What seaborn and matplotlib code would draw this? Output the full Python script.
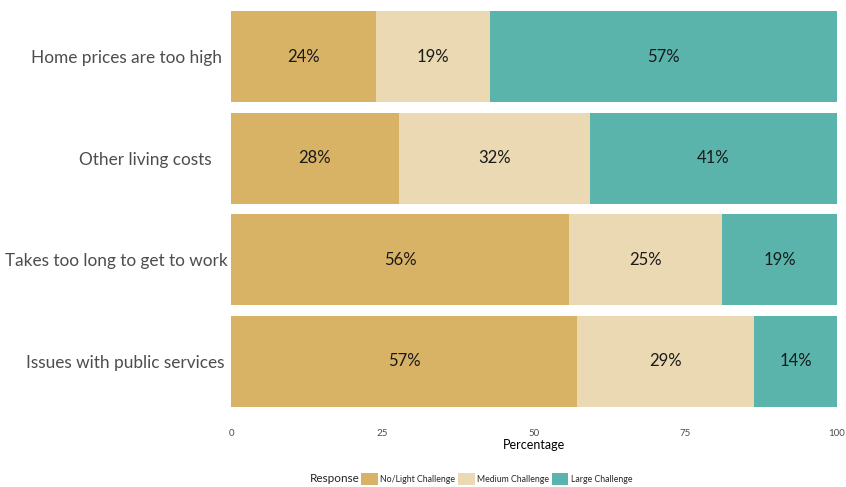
import pandas as pd
import matplotlib.pyplot as plt
import matplotlib.transforms as mtransforms
from matplotlib.patches import Patch
import seaborn as sns

# data (percent of respondents)
categories = ["Home prices are too high", "Other living costs",
              "Takes too long to get to work", "Issues with public services"]
responses = ["No/Light Challenge", "Medium Challenge", "Large Challenge"]
no_light = [23.9, 27.7, 55.8, 57.1]
medium = [18.8, 31.5, 25.2, 29.2]
large = [57.3, 40.8, 19.0, 13.7]
colors = ["#D8B365", "#EAD9B2", "#5AB4AC"]

df = pd.DataFrame({"category": categories, "No/Light Challenge": no_light,
                   "Medium Challenge": medium, "Large Challenge": large})
df["cum1"] = df["No/Light Challenge"]
df["cum2"] = df["cum1"] + df["Medium Challenge"]
df["cum3"] = df["cum2"] + df["Large Challenge"]

sns.set_style("white")
plt.rcParams["font.family"] = ["Lato", "DejaVu Sans"]

fig = plt.figure(figsize=(8.46, 4.87), dpi=100)
ax = fig.add_axes([231 / 846, 1 - 412 / 487, 606 / 846, 406 / 487])

# stacked bars: draw cumulative totals back to front
for col, c in zip(["cum3", "cum2", "cum1"], colors[::-1]):
    sns.barplot(data=df, x=col, y="category", order=categories, color=c,
                width=0.9, saturation=1, linewidth=0, ax=ax, orient="h")

# segment labels
for i, row in df.iterrows():
    starts = [0, row["cum1"], row["cum2"]]
    for s, r in zip(starts, responses):
        v = row[r]
        ax.text(s + v / 2, i, f"{round(v)}%", ha="center", va="center",
                fontsize=12, color="#1a1a1a")

ax.set_xlim(0, 100)
ax.set_ylim(3.5, -0.5)
ax.set_xticks([0, 25, 50, 75, 100])
ax.tick_params(axis="x", length=0, pad=12, labelsize=7, labelcolor="#4d4d4d")
ax.tick_params(axis="y", length=0, pad=0, labelsize=12.4, labelcolor="#4d4d4d")
ax.set_xlabel("Percentage", fontsize=9, labelpad=1, color="black")
ax.set_ylabel("")
sns.despine(ax=ax, left=True, bottom=True)

# right edges of the category labels differ in the reference
offsets = [-9, -19, -3, -7]
for lab, dx in zip(ax.get_yticklabels(), offsets):
    lab.set_transform(lab.get_transform() +
                      mtransforms.ScaledTranslation(dx / 100, 0, fig.dpi_scale_trans))

# legend along the bottom
fig.text(310 / 846, 1 - 479 / 487, "Response", fontsize=8.5, va="center", ha="left")
handles = [Patch(facecolor=c, edgecolor="none", label=r) for c, r in zip(colors, responses)]
fig.legend(handles=handles, loc="center left", bbox_to_anchor=(361 / 846, 1 - 479 / 487),
           ncol=3, frameon=False, fontsize=6.3, handlelength=1.9, handleheight=1.8,
           handletextpad=0.3, columnspacing=0.3, borderpad=0, borderaxespad=0)

fig.savefig("out.png", dpi=100)
